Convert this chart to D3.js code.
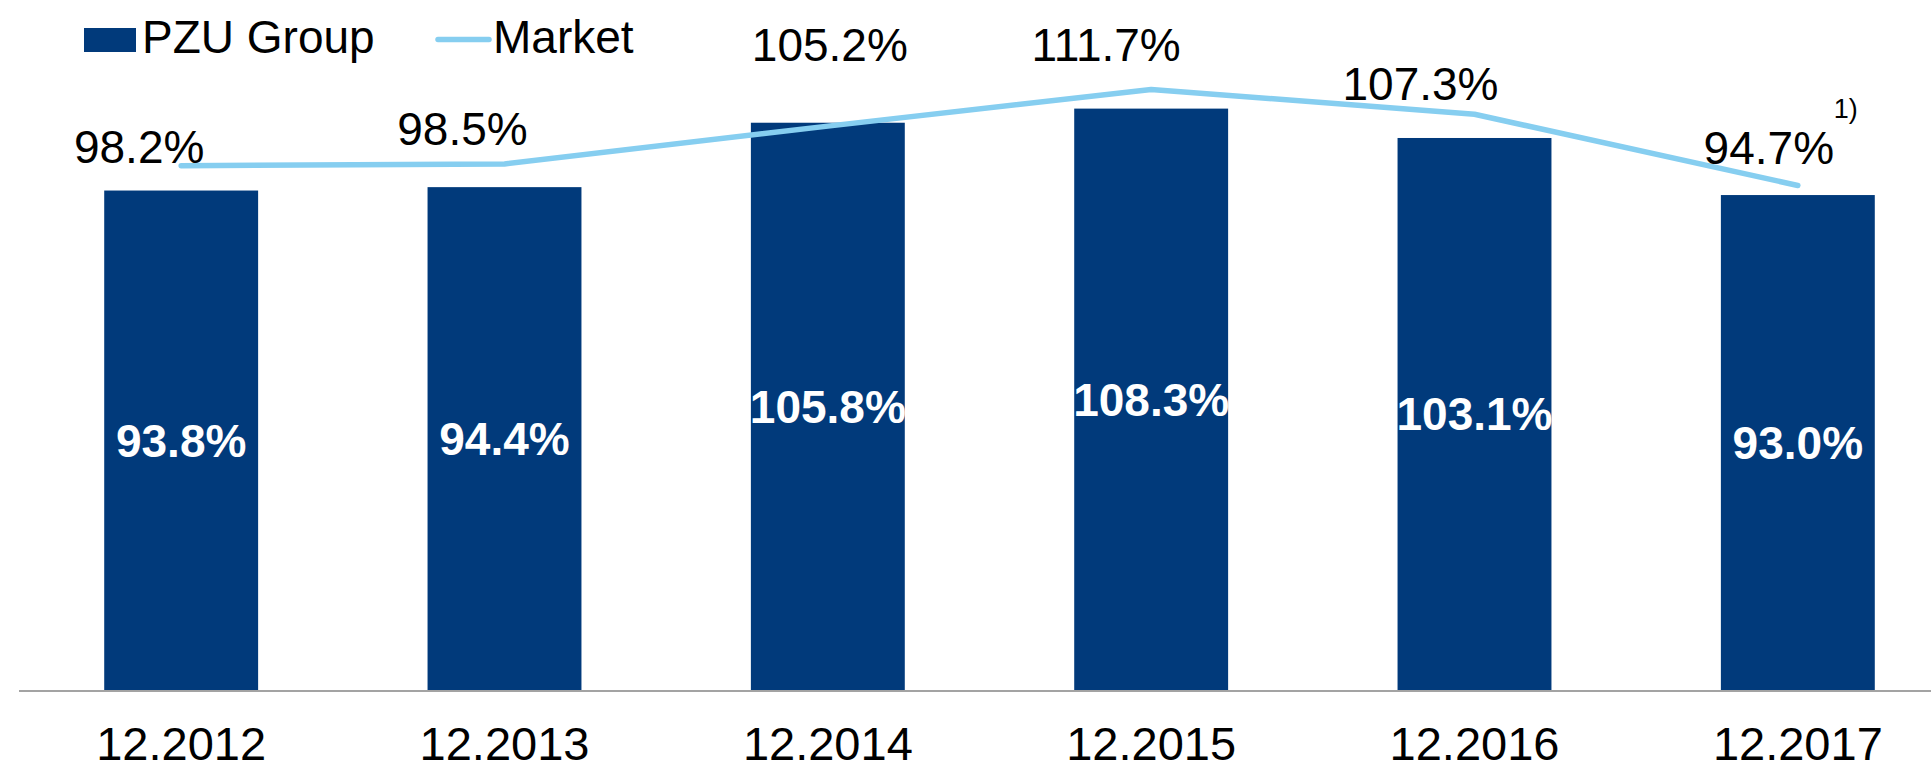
<!DOCTYPE html>
<html>
<head>
<meta charset="utf-8">
<script src="https://cdn.jsdelivr.net/npm/d3@7"></script>
<style>
  body { margin: 0; background: #fff; }
  text { font-family: "Liberation Sans", Arial, sans-serif; }
</style>
</head>
<body>
<div id="viz"></div>
<script>
var categories = ['12.2012', '12.2013', '12.2014', '12.2015', '12.2016', '12.2017'];
var pzuValues = [93.8, 94.4, 105.8, 108.3, 103.1, 93.0];
var marketValues = [98.2, 98.5, 105.2, 111.7, 107.3, 94.7];
var seriesNames = ['PZU Group', 'Market'];

// nudges for the market labels (they sit by hand in the original)
var marketLabelShift = [[-42, -3], [-42, -19], [2, -65], [-45, -28], [-54, -14], [-29, -21]];

var width = 1931,
    height = 770,
    baseY = 690;

var barColor = '#013a7b',
    lineColor = '#86cef0';

var xScale = d3.scaleBand()
    .domain(categories)
    .range([19.5, 1959.5])
    .paddingInner(0.524)
    .paddingOuter(0.262);

var yScale = d3.scaleLinear()
    .domain([5.4, 120])
    .range([baseY, 42.5]);

var svg = d3.select('#viz').append('svg')
    .attr('width', width)
    .attr('height', height);

// bars
svg.selectAll('rect.bar').data(pzuValues)
    .enter().append('rect')
    .attr('class', 'bar')
    .attr('fill', barColor)
    .attr('x', function(d, i) { return xScale(categories[i]); })
    .attr('width', xScale.bandwidth())
    .attr('y', function(d) { return yScale(d); })
    .attr('height', function(d) { return baseY - yScale(d); });

// axis line + category labels
svg.append('line')
    .attr('x1', 19).attr('x2', width)
    .attr('y1', baseY + 1).attr('y2', baseY + 1)
    .attr('stroke', '#a3a3a3')
    .attr('stroke-width', 2);

var xAxis = d3.axisBottom(xScale).tickSize(0).tickPadding(0);
var gx = svg.append('g')
    .attr('transform', 'translate(0,' + baseY + ')')
    .call(xAxis);
gx.select('.domain').remove();
gx.selectAll('text')
    .attr('dy', null)
    .attr('y', 70)
    .style('font-size', '47px')
    .style('font-family', '"Liberation Sans", Arial, sans-serif')
    .attr('fill', '#000');

// bar labels
svg.selectAll('text.barLabel').data(pzuValues)
    .enter().append('text')
    .attr('class', 'barLabel')
    .attr('text-anchor', 'middle')
    .attr('x', function(d, i) { return xScale(categories[i]) + xScale.bandwidth() / 2; })
    .attr('y', function(d) { return (yScale(d) + baseY) / 2 + 16.5; })
    .attr('fill', '#fff')
    .style('font-weight', 'bold')
    .style('font-size', '46px')
    .text(function(d) { return d.toFixed(1) + '%'; });

// market line
var line = d3.line()
    .x(function(d, i) { return xScale(categories[i]) + xScale.bandwidth() / 2; })
    .y(function(d) { return yScale(d); });

svg.append('path')
    .datum(marketValues)
    .attr('d', line)
    .attr('fill', 'none')
    .attr('stroke', lineColor)
    .attr('stroke-width', 5.5)
    .attr('stroke-linecap', 'round')
    .attr('stroke-linejoin', 'round');

svg.selectAll('text.mktLabel').data(marketValues)
    .enter().append('text')
    .attr('class', 'mktLabel')
    .attr('text-anchor', 'middle')
    .attr('x', function(d, i) { return xScale(categories[i]) + xScale.bandwidth() / 2 + marketLabelShift[i][0]; })
    .attr('y', function(d, i) { return yScale(d) + marketLabelShift[i][1]; })
    .attr('fill', '#000')
    .style('font-size', '46px')
    .text(function(d) { return d.toFixed(1) + '%'; });

// footnote mark on last market value
var last = marketValues.length - 1;
svg.append('text')
    .attr('x', xScale(categories[last]) + xScale.bandwidth() / 2 + 36)
    .attr('y', yScale(marketValues[last]) - 67)
    .attr('fill', '#000')
    .style('font-size', '27px')
    .text('1)');

// legend
var legend = svg.append('g');
legend.append('rect')
    .attr('x', 84).attr('y', 28)
    .attr('width', 52).attr('height', 24)
    .attr('fill', barColor);
legend.append('text')
    .attr('x', 142).attr('y', 53)
    .style('font-size', '46px')
    .text(seriesNames[0]);
legend.append('line')
    .attr('x1', 438).attr('x2', 489)
    .attr('y1', 39.5).attr('y2', 39.5)
    .attr('stroke', lineColor)
    .attr('stroke-width', 5.5)
    .attr('stroke-linecap', 'round');
legend.append('text')
    .attr('x', 493).attr('y', 53)
    .style('font-size', '46px')
    .text(seriesNames[1]);
</script>
</body>
</html>
